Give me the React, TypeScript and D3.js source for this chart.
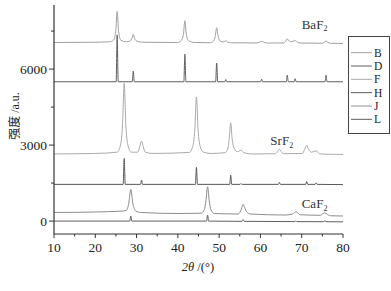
import * as d3 from "d3";

// XRD patterns: [2θ, intensity]
const baF2Exp: [number, number][] = [
  [10, 7050], [20, 7060], [23.5, 7080],
  [24.4, 7140], [24.95, 7480], [25.3, 8270], [25.65, 7480], [26.2, 7140],
  [27.5, 7080], [28.4, 7110], [28.9, 7220], [29.2, 7370], [29.5, 7220], [30.0, 7110], [31.5, 7060],
  [40, 7050], [40.8, 7120], [41.35, 7370], [41.7, 7910], [42.05, 7370], [42.6, 7120], [44, 7050],
  [48, 7040], [48.6, 7110], [49.05, 7290], [49.4, 7630], [49.75, 7290], [50.3, 7100],
  [51.1, 7070], [51.6, 7120], [52.1, 7060], [53, 7040],
  [59, 7030], [59.8, 7060], [60.3, 7100], [60.8, 7060], [61.5, 7030],
  [65.5, 7030], [66.1, 7090], [66.5, 7190], [67.0, 7100], [67.6, 7080], [68.4, 7130], [68.9, 7070], [69.6, 7030],
  [75, 7020], [75.5, 7070], [75.9, 7110], [76.3, 7060], [77, 7020], [80, 7010],
];

const baF2Ref: [number, number][] = [
  [10, 5500], [25.05, 5500], [25.3, 7350], [25.55, 5500],
  [28.95, 5500], [29.2, 5920], [29.45, 5500],
  [41.45, 5500], [41.7, 6590], [41.95, 5500],
  [49.15, 5500], [49.4, 6240], [49.65, 5500],
  [51.35, 5500], [51.6, 5590], [51.85, 5500],
  [60.05, 5500], [60.3, 5600], [60.55, 5500],
  [66.25, 5500], [66.5, 5760], [66.75, 5500],
  [68.15, 5500], [68.4, 5620], [68.65, 5500],
  [75.65, 5500], [75.9, 5760], [76.15, 5500], [80, 5500],
];

const srF2Exp: [number, number][] = [
  [10, 2650], [20, 2670], [25.3, 2720],
  [26.1, 3000], [26.6, 3800], [27.0, 5440], [27.4, 3800], [27.9, 3000], [28.7, 2720],
  [30.3, 2720], [30.8, 2950], [31.2, 3160], [31.6, 2950], [32.1, 2720], [34, 2670],
  [42.8, 2710], [43.6, 2950], [44.1, 3600], [44.5, 4900], [44.9, 3600], [45.4, 2950], [46.2, 2720], [48, 2670],
  [51.4, 2700], [52.1, 2880], [52.45, 3250], [52.8, 3880], [53.15, 3250], [53.6, 2880],
  [54.4, 2740], [55.3, 2800], [56, 2700], [58, 2650],
  [63.6, 2660], [64.2, 2750], [64.6, 2840], [65.0, 2750], [65.6, 2660],
  [70.1, 2670], [70.7, 2820], [71.2, 3000], [71.7, 2820], [72.4, 2720], [73.5, 2775], [74.3, 2660],
  [76, 2640], [80, 2630],
];

const srF2Ref: [number, number][] = [
  [10, 1450], [26.75, 1450], [27.0, 2475], [27.25, 1450],
  [30.95, 1450], [31.2, 1620], [31.45, 1450],
  [44.25, 1450], [44.5, 2120], [44.75, 1450],
  [52.55, 1450], [52.8, 1815], [53.05, 1450],
  [55.05, 1450], [55.3, 1490], [55.55, 1450],
  [64.35, 1450], [64.6, 1530], [64.85, 1450],
  [70.95, 1450], [71.2, 1560], [71.45, 1450],
  [73.25, 1450], [73.5, 1510], [73.75, 1450], [80, 1440],
];

const caF2Exp: [number, number][] = [
  [10, 340], [20, 360], [26, 390], [27.5, 420],
  [28.1, 700], [28.6, 1250], [29.1, 700], [29.8, 400], [31, 340],
  [40, 300], [45.6, 310], [46.4, 450], [46.8, 800], [47.2, 1355], [47.6, 800], [48.0, 450], [48.8, 300],
  [54.6, 280], [55.2, 400], [55.5, 540], [55.8, 660], [56.2, 530], [56.6, 380], [57.5, 280],
  [66, 240], [67.8, 280], [68.3, 340], [68.6, 370], [69.0, 330], [69.7, 250],
  [74.5, 230], [75.2, 300], [75.6, 330], [76.1, 280], [77, 210], [80, 200],
];

const caF2Ref: [number, number][] = [
  [10, 0], [28.35, 0], [28.6, 200], [28.85, 0],
  [46.95, 0], [47.2, 240], [47.45, 0],
  [55.55, -10], [55.8, 60], [56.05, -10],
  [68.35, -20], [68.6, 20], [68.85, -20],
  [75.35, -25], [75.6, 25], [75.85, -25], [80, -30],
];

const seriesNames = ["B", "D", "F", "H", "J", "L"];
const seriesData = [baF2Exp, baF2Ref, srF2Exp, srF2Ref, caF2Exp, caF2Ref];
const seriesColors = ["#a0a0a0", "#5e5e5e", "#aaaaaa", "#585858", "#8c8c8c", "#606060"];

const xTicks = [10, 20, 30, 40, 50, 60, 70, 80];
const xMinor = [15, 25, 35, 45, 55, 65, 75];
const yTicks = [0, 3000, 6000];
const yMinor = [1500, 4500, 7500];

const phaseLabels = [
  { name: "BaF", x: 70, y: 7600 },
  { name: "SrF", x: 62.4, y: 3000 },
  { name: "CaF", x: 70, y: 500 },
];

const serif = "'Liberation Serif', 'DejaVu Serif', serif";

export default function App() {
  const x = d3.scaleLinear().domain([10, 80]).range([54, 343]);
  const y = d3.scaleLinear().domain([-470, 8530]).range([233, 5]);
  const line = d3
    .line<[number, number]>()
    .x((d) => x(d[0]))
    .y((d) => y(d[1]))
    .curve(d3.curveMonotoneX);

  const legendY = d3.scaleBand().domain(seriesNames).range([46, 126]);

  return (
    <svg
      width={391}
      height={291}
      style={{ position: "absolute", left: 0, top: 0, background: "#fff" }}
      fontFamily={serif}
    >
      {/* curves */}
      {seriesData.map((d, i) => (
        <path key={i} d={line(d) || ""} fill="none" stroke={seriesColors[i]} strokeWidth={1} />
      ))}

      {/* y axis */}
      <line x1={54} x2={54} y1={5} y2={234} stroke="#333" strokeWidth={1.2} />
      {yTicks.map((t) => (
        <g key={t}>
          <line x1={49} x2={54} y1={y(t)} y2={y(t)} stroke="#333" />
          <text x={47} y={y(t)} dy="0.35em" textAnchor="end" fontSize={13.5} fill="#222">
            {t}
          </text>
        </g>
      ))}
      {yMinor.map((t) => (
        <line key={t} x1={51} x2={54} y1={y(t)} y2={y(t)} stroke="#333" />
      ))}

      {/* x axis */}
      <line x1={54} x2={343} y1={234} y2={234} stroke="#333" strokeWidth={1.2} />
      {xTicks.map((t) => (
        <g key={t}>
          <line x1={x(t)} x2={x(t)} y1={234} y2={238} stroke="#333" />
          <text x={x(t)} y={252} textAnchor="middle" fontSize={13.5} fill="#222">
            {t}
          </text>
        </g>
      ))}
      {xMinor.map((t) => (
        <line key={t} x1={x(t)} x2={x(t)} y1={234} y2={236.5} stroke="#333" />
      ))}

      {/* axis titles */}
      <text x={198} y={271} textAnchor="middle" fontSize={12.5} fill="#222">
        <tspan fontStyle="italic">2θ</tspan>
        <tspan> /(°)</tspan>
      </text>
      <text
        transform="translate(19,116) rotate(-90)"
        textAnchor="middle"
        fontSize={12}
        fill="#222"
      >
        <tspan fontFamily="'Noto Sans CJK SC', sans-serif">强度</tspan>
        <tspan> /a.u.</tspan>
      </text>

      {/* phase labels */}
      {phaseLabels.map((p) => (
        <text key={p.name} x={x(p.x)} y={y(p.y)} fontSize={13} fill="#333">
          {p.name}
          <tspan fontSize={8} dy={2.5}>2</tspan>
        </text>
      ))}

      {/* legend */}
      <rect x={348.5} y={36.5} width={41} height={97} fill="none" stroke="#444" strokeWidth={1} />
      {seriesNames.map((n, i) => {
        const cy = (legendY(n) || 0) + legendY.bandwidth() / 2;
        return (
          <g key={n}>
            <line x1={351} x2={372} y1={cy} y2={cy} stroke={seriesColors[i]} strokeWidth={1} />
            <text x={374} y={cy} dy="0.35em" fontSize={11.5} fill="#222">
              {n}
            </text>
          </g>
        );
      })}
    </svg>
  );
}
